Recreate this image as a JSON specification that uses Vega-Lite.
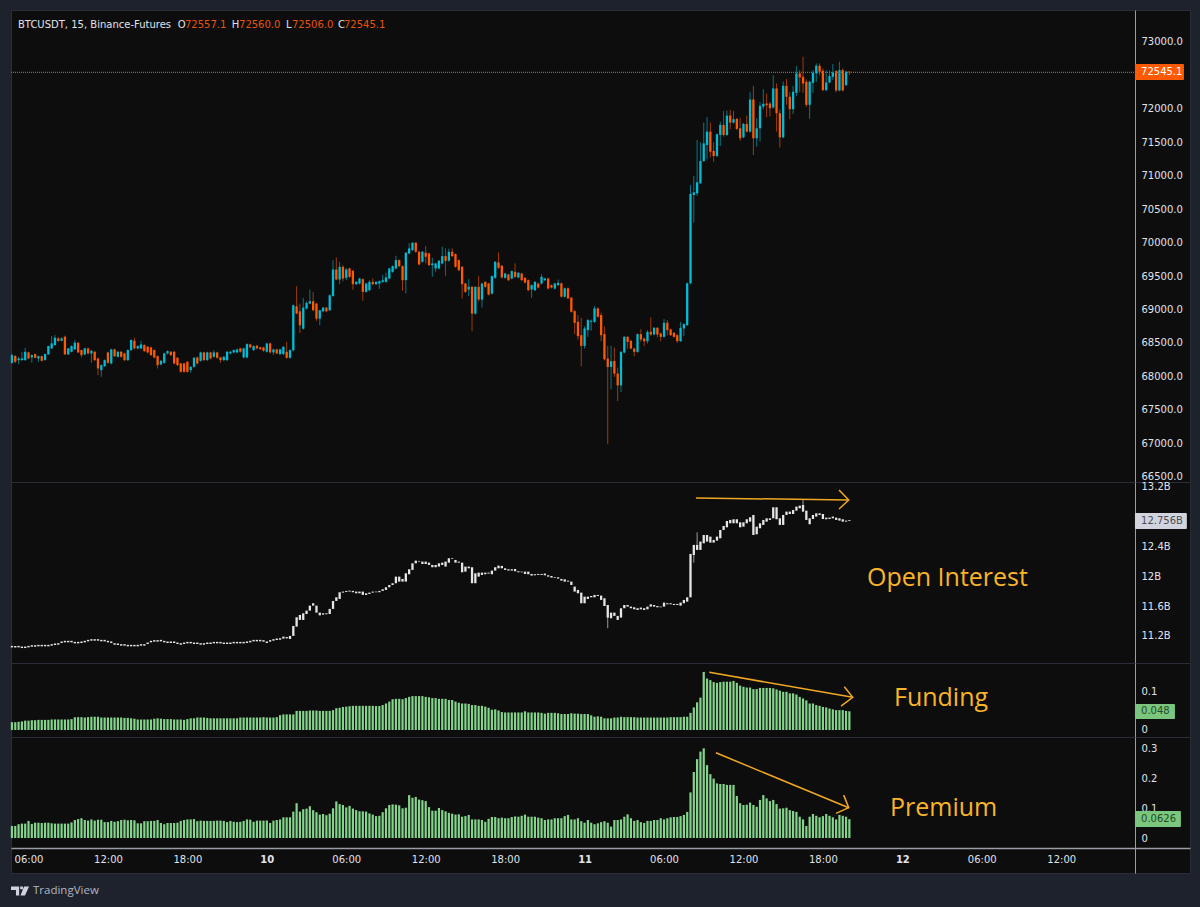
{
"$schema":"https://vega.github.io/schema/vega-lite/v6.json",
"background":"#1e222d",
"padding":{"left":9,"top":9,"right":12,"bottom":1},
"spacing":0,
"bounds":"flush",
"config":{
"view":{"fill":"#0d0d0d","stroke":"#2a2d35"},
"axis":{"grid":false,"ticks":false,"title":null,"domainColor":"#9a9da6","domainWidth":1,"labelColor":"#e0e3eb","labelFont":"DejaVu Sans","labelFontSize":10,"labelOverlap":false,"labelPadding":6,"tickCount":100},
"text":{"font":"DejaVu Sans"}
},
"datasets":{"bars":[
{"t":4.75,"o":68204,"h":68340,"l":68190,"c":68319,"oa":11.044,"ob":11.064,"f":0.02,"p":0.04},
{"t":5,"o":68304,"h":68320,"l":68200,"c":68219,"oa":11.044,"ob":11.064,"f":0.02,"p":0.04},
{"t":5.25,"o":68244,"h":68294,"l":68184,"c":68269,"oa":11.044,"ob":11.064,"f":0.021,"p":0.046},
{"t":5.5,"o":68244,"h":68369,"l":68234,"c":68269,"oa":11.035,"ob":11.055,"f":0.022,"p":0.048},
{"t":5.75,"o":68244,"h":68429,"l":68234,"c":68369,"oa":11.035,"ob":11.055,"f":0.024,"p":0.048},
{"t":6,"o":68359,"h":68369,"l":68260,"c":68269,"oa":11.044,"ob":11.064,"f":0.024,"p":0.057},
{"t":6.25,"o":68284,"h":68330,"l":68204,"c":68319,"oa":11.053,"ob":11.073,"f":0.025,"p":0.047},
{"t":6.5,"o":68334,"h":68340,"l":68270,"c":68279,"oa":11.053,"ob":11.073,"f":0.025,"p":0.051},
{"t":6.75,"o":68269,"h":68310,"l":68219,"c":68304,"oa":11.058,"ob":11.078,"f":0.026,"p":0.051},
{"t":7,"o":68304,"h":68310,"l":68225,"c":68234,"oa":11.058,"ob":11.078,"f":0.026,"p":0.05},
{"t":7.25,"o":68244,"h":68345,"l":68240,"c":68334,"oa":11.058,"ob":11.078,"f":0.026,"p":0.051},
{"t":7.5,"o":68329,"h":68460,"l":68325,"c":68454,"oa":11.058,"ob":11.078,"f":0.026,"p":0.051},
{"t":7.75,"o":68419,"h":68604,"l":68410,"c":68494,"oa":11.067,"ob":11.087,"f":0.027,"p":0.049},
{"t":8,"o":68469,"h":68619,"l":68460,"c":68579,"oa":11.076,"ob":11.096,"f":0.027,"p":0.048},
{"t":8.25,"o":68569,"h":68590,"l":68520,"c":68529,"oa":11.08,"ob":11.1,"f":0.027,"p":0.048},
{"t":8.5,"o":68534,"h":68585,"l":68525,"c":68569,"oa":11.103,"ob":11.123,"f":0.027,"p":0.048},
{"t":8.75,"o":68594,"h":68610,"l":68325,"c":68329,"oa":11.112,"ob":11.132,"f":0.027,"p":0.048},
{"t":9,"o":68329,"h":68425,"l":68320,"c":68419,"oa":11.112,"ob":11.132,"f":0.027,"p":0.048},
{"t":9.25,"o":68369,"h":68465,"l":68360,"c":68454,"oa":11.112,"ob":11.132,"f":0.028,"p":0.052},
{"t":9.5,"o":68404,"h":68544,"l":68400,"c":68504,"oa":11.098,"ob":11.118,"f":0.033,"p":0.06},
{"t":9.75,"o":68504,"h":68510,"l":68350,"c":68359,"oa":11.098,"ob":11.118,"f":0.033,"p":0.063},
{"t":10,"o":68394,"h":68400,"l":68284,"c":68319,"oa":11.103,"ob":11.123,"f":0.033,"p":0.066},
{"t":10.25,"o":68329,"h":68430,"l":68315,"c":68419,"oa":11.112,"ob":11.132,"f":0.032,"p":0.06},
{"t":10.5,"o":68419,"h":68430,"l":68330,"c":68344,"oa":11.125,"ob":11.145,"f":0.033,"p":0.058},
{"t":10.75,"o":68344,"h":68395,"l":68204,"c":68384,"oa":11.134,"ob":11.154,"f":0.034,"p":0.062},
{"t":11,"o":68369,"h":68380,"l":68230,"c":68244,"oa":11.134,"ob":11.154,"f":0.034,"p":0.058},
{"t":11.25,"o":68269,"h":68280,"l":68019,"c":68119,"oa":11.134,"ob":11.154,"f":0.034,"p":0.061},
{"t":11.5,"o":68094,"h":68180,"l":67994,"c":68169,"oa":11.125,"ob":11.145,"f":0.032,"p":0.061},
{"t":11.75,"o":68154,"h":68255,"l":68140,"c":68244,"oa":11.125,"ob":11.145,"f":0.032,"p":0.053},
{"t":12,"o":68359,"h":68370,"l":68190,"c":68204,"oa":11.112,"ob":11.132,"f":0.032,"p":0.053},
{"t":12.25,"o":68194,"h":68415,"l":68180,"c":68404,"oa":11.103,"ob":11.123,"f":0.032,"p":0.057},
{"t":12.5,"o":68404,"h":68415,"l":68290,"c":68304,"oa":11.08,"ob":11.1,"f":0.032,"p":0.054},
{"t":12.75,"o":68294,"h":68380,"l":68280,"c":68369,"oa":11.076,"ob":11.096,"f":0.032,"p":0.056},
{"t":13,"o":68369,"h":68380,"l":68280,"c":68294,"oa":11.067,"ob":11.087,"f":0.032,"p":0.06},
{"t":13.25,"o":68344,"h":68355,"l":68230,"c":68244,"oa":11.067,"ob":11.087,"f":0.031,"p":0.061},
{"t":13.5,"o":68244,"h":68405,"l":68230,"c":68394,"oa":11.058,"ob":11.078,"f":0.031,"p":0.059},
{"t":13.75,"o":68394,"h":68555,"l":68380,"c":68544,"oa":11.058,"ob":11.078,"f":0.03,"p":0.06},
{"t":14,"o":68534,"h":68579,"l":68405,"c":68419,"oa":11.058,"ob":11.078,"f":0.029,"p":0.059},
{"t":14.25,"o":68419,"h":68465,"l":68405,"c":68454,"oa":11.058,"ob":11.078,"f":0.027,"p":0.049},
{"t":14.5,"o":68419,"h":68534,"l":68405,"c":68479,"oa":11.067,"ob":11.087,"f":0.027,"p":0.049},
{"t":14.75,"o":68469,"h":68480,"l":68365,"c":68379,"oa":11.067,"ob":11.087,"f":0.027,"p":0.056},
{"t":15,"o":68444,"h":68455,"l":68345,"c":68359,"oa":11.089,"ob":11.109,"f":0.027,"p":0.056},
{"t":15.25,"o":68434,"h":68445,"l":68305,"c":68319,"oa":11.112,"ob":11.132,"f":0.027,"p":0.057},
{"t":15.5,"o":68394,"h":68405,"l":68270,"c":68284,"oa":11.121,"ob":11.141,"f":0.029,"p":0.057},
{"t":15.75,"o":68304,"h":68315,"l":68119,"c":68169,"oa":11.121,"ob":11.141,"f":0.03,"p":0.06},
{"t":16,"o":68179,"h":68245,"l":68165,"c":68234,"oa":11.125,"ob":11.145,"f":0.029,"p":0.05},
{"t":16.25,"o":68204,"h":68355,"l":68190,"c":68344,"oa":11.112,"ob":11.132,"f":0.028,"p":0.046},
{"t":16.5,"o":68344,"h":68390,"l":68330,"c":68379,"oa":11.103,"ob":11.123,"f":0.028,"p":0.05},
{"t":16.75,"o":68369,"h":68380,"l":68305,"c":68319,"oa":11.103,"ob":11.123,"f":0.028,"p":0.05},
{"t":17,"o":68369,"h":68380,"l":68180,"c":68194,"oa":11.103,"ob":11.123,"f":0.027,"p":0.05},
{"t":17.25,"o":68279,"h":68290,"l":68155,"c":68169,"oa":11.089,"ob":11.109,"f":0.027,"p":0.051},
{"t":17.5,"o":68194,"h":68205,"l":68055,"c":68069,"oa":11.08,"ob":11.1,"f":0.027,"p":0.057},
{"t":17.75,"o":68194,"h":68205,"l":68055,"c":68069,"oa":11.089,"ob":11.109,"f":0.026,"p":0.06},
{"t":18,"o":68219,"h":68230,"l":68055,"c":68069,"oa":11.098,"ob":11.118,"f":0.028,"p":0.062},
{"t":18.25,"o":68094,"h":68155,"l":68054,"c":68144,"oa":11.098,"ob":11.118,"f":0.03,"p":0.062},
{"t":18.5,"o":68144,"h":68290,"l":68130,"c":68279,"oa":11.089,"ob":11.109,"f":0.03,"p":0.063},
{"t":18.75,"o":68284,"h":68295,"l":68180,"c":68194,"oa":11.089,"ob":11.109,"f":0.032,"p":0.056},
{"t":19,"o":68234,"h":68370,"l":68220,"c":68359,"oa":11.08,"ob":11.1,"f":0.032,"p":0.058},
{"t":19.25,"o":68359,"h":68370,"l":68230,"c":68244,"oa":11.08,"ob":11.1,"f":0.032,"p":0.057},
{"t":19.5,"o":68244,"h":68370,"l":68230,"c":68359,"oa":11.089,"ob":11.109,"f":0.031,"p":0.057},
{"t":19.75,"o":68359,"h":68370,"l":68255,"c":68269,"oa":11.089,"ob":11.109,"f":0.03,"p":0.057},
{"t":20,"o":68294,"h":68394,"l":68280,"c":68359,"oa":11.098,"ob":11.118,"f":0.03,"p":0.057},
{"t":20.25,"o":68359,"h":68370,"l":68265,"c":68279,"oa":11.098,"ob":11.118,"f":0.03,"p":0.058},
{"t":20.5,"o":68284,"h":68295,"l":68204,"c":68244,"oa":11.098,"ob":11.118,"f":0.03,"p":0.058},
{"t":20.75,"o":68244,"h":68305,"l":68230,"c":68294,"oa":11.089,"ob":11.109,"f":0.03,"p":0.057},
{"t":21,"o":68244,"h":68380,"l":68230,"c":68369,"oa":11.089,"ob":11.109,"f":0.03,"p":0.053},
{"t":21.25,"o":68344,"h":68380,"l":68330,"c":68369,"oa":11.089,"ob":11.109,"f":0.03,"p":0.057},
{"t":21.5,"o":68359,"h":68405,"l":68345,"c":68394,"oa":11.098,"ob":11.118,"f":0.03,"p":0.054},
{"t":21.75,"o":68359,"h":68415,"l":68345,"c":68404,"oa":11.098,"ob":11.118,"f":0.03,"p":0.053},
{"t":22,"o":68419,"h":68430,"l":68355,"c":68369,"oa":11.098,"ob":11.118,"f":0.032,"p":0.054},
{"t":22.25,"o":68284,"h":68430,"l":68270,"c":68419,"oa":11.098,"ob":11.118,"f":0.032,"p":0.057},
{"t":22.5,"o":68284,"h":68495,"l":68270,"c":68484,"oa":11.103,"ob":11.123,"f":0.032,"p":0.062},
{"t":22.75,"o":68479,"h":68490,"l":68420,"c":68434,"oa":11.112,"ob":11.132,"f":0.032,"p":0.061},
{"t":23,"o":68394,"h":68465,"l":68380,"c":68454,"oa":11.125,"ob":11.145,"f":0.032,"p":0.054},
{"t":23.25,"o":68459,"h":68470,"l":68405,"c":68419,"oa":11.125,"ob":11.145,"f":0.032,"p":0.058},
{"t":23.5,"o":68434,"h":68445,"l":68395,"c":68409,"oa":11.125,"ob":11.145,"f":0.032,"p":0.058},
{"t":23.75,"o":68434,"h":68445,"l":68370,"c":68384,"oa":11.121,"ob":11.141,"f":0.033,"p":0.058},
{"t":24,"o":68369,"h":68505,"l":68355,"c":68494,"oa":11.103,"ob":11.123,"f":0.032,"p":0.058},
{"t":24.25,"o":68494,"h":68505,"l":68345,"c":68359,"oa":11.121,"ob":11.141,"f":0.032,"p":0.05},
{"t":24.5,"o":68359,"h":68415,"l":68319,"c":68404,"oa":11.134,"ob":11.154,"f":0.032,"p":0.058},
{"t":24.75,"o":68404,"h":68415,"l":68330,"c":68344,"oa":11.143,"ob":11.163,"f":0.033,"p":0.06},
{"t":25,"o":68334,"h":68415,"l":68320,"c":68404,"oa":11.147,"ob":11.167,"f":0.038,"p":0.062},
{"t":25.25,"o":68334,"h":68455,"l":68320,"c":68444,"oa":11.162,"ob":11.189,"f":0.04,"p":0.069},
{"t":25.5,"o":68369,"h":68519,"l":68265,"c":68279,"oa":11.165,"ob":11.183,"f":0.04,"p":0.069},
{"t":25.75,"o":68279,"h":68405,"l":68265,"c":68394,"oa":11.157,"ob":11.198,"f":0.04,"p":0.069},
{"t":26,"o":68390,"h":69075,"l":68375,"c":69064,"oa":11.198,"ob":11.332,"f":0.04,"p":0.088},
{"t":26.25,"o":69049,"h":69349,"l":68930,"c":68939,"oa":11.323,"ob":11.449,"f":0.049,"p":0.116},
{"t":26.5,"o":68974,"h":69089,"l":68649,"c":68764,"oa":11.413,"ob":11.48,"f":0.049,"p":0.088},
{"t":26.75,"o":68714,"h":69174,"l":68700,"c":69029,"oa":11.413,"ob":11.502,"f":0.049,"p":0.096},
{"t":27,"o":69014,"h":69120,"l":69000,"c":69099,"oa":11.493,"ob":11.538,"f":0.049,"p":0.098},
{"t":27.25,"o":69089,"h":69299,"l":69080,"c":69124,"oa":11.538,"ob":11.605,"f":0.05,"p":0.106},
{"t":27.5,"o":69124,"h":69264,"l":68980,"c":68989,"oa":11.605,"ob":11.637,"f":0.05,"p":0.093},
{"t":27.75,"o":69089,"h":69100,"l":68830,"c":68864,"oa":11.511,"ob":11.605,"f":0.05,"p":0.086},
{"t":28,"o":68864,"h":68995,"l":68764,"c":68989,"oa":11.475,"ob":11.511,"f":0.049,"p":0.078},
{"t":28.25,"o":68974,"h":69040,"l":68960,"c":69029,"oa":11.484,"ob":11.502,"f":0.049,"p":0.08},
{"t":28.5,"o":69029,"h":69040,"l":68960,"c":68974,"oa":11.489,"ob":11.502,"f":0.049,"p":0.076},
{"t":28.75,"o":68989,"h":69225,"l":68975,"c":69214,"oa":11.493,"ob":11.561,"f":0.049,"p":0.081},
{"t":29,"o":69204,"h":69739,"l":69190,"c":69599,"oa":11.561,"ob":11.668,"f":0.051,"p":0.099},
{"t":29.25,"o":69599,"h":69779,"l":69440,"c":69449,"oa":11.668,"ob":11.717,"f":0.056,"p":0.122},
{"t":29.5,"o":69449,"h":69714,"l":69379,"c":69639,"oa":11.695,"ob":11.785,"f":0.057,"p":0.113},
{"t":29.75,"o":69639,"h":69664,"l":69420,"c":69464,"oa":11.78,"ob":11.794,"f":0.059,"p":0.11},
{"t":30,"o":69474,"h":69620,"l":69440,"c":69599,"oa":11.789,"ob":11.803,"f":0.06,"p":0.102},
{"t":30.25,"o":69614,"h":69625,"l":69475,"c":69489,"oa":11.794,"ob":11.807,"f":0.061,"p":0.107},
{"t":30.5,"o":69579,"h":69590,"l":69299,"c":69379,"oa":11.785,"ob":11.803,"f":0.062,"p":0.098},
{"t":30.75,"o":69379,"h":69425,"l":69365,"c":69414,"oa":11.771,"ob":11.794,"f":0.062,"p":0.093},
{"t":31,"o":69389,"h":69475,"l":69375,"c":69464,"oa":11.771,"ob":11.794,"f":0.062,"p":0.089},
{"t":31.25,"o":69454,"h":69465,"l":69129,"c":69264,"oa":11.749,"ob":11.794,"f":0.062,"p":0.089},
{"t":31.5,"o":69264,"h":69400,"l":69250,"c":69389,"oa":11.749,"ob":11.771,"f":0.062,"p":0.088},
{"t":31.75,"o":69289,"h":69439,"l":69275,"c":69414,"oa":11.762,"ob":11.78,"f":0.062,"p":0.082},
{"t":32,"o":69414,"h":69464,"l":69365,"c":69379,"oa":11.78,"ob":11.794,"f":0.062,"p":0.078},
{"t":32.25,"o":69379,"h":69425,"l":69365,"c":69414,"oa":11.785,"ob":11.794,"f":0.0615,"p":0.073},
{"t":32.5,"o":69389,"h":69435,"l":69309,"c":69424,"oa":11.785,"ob":11.803,"f":0.0615,"p":0.074},
{"t":32.75,"o":69414,"h":69519,"l":69400,"c":69439,"oa":11.803,"ob":11.825,"f":0.064,"p":0.086},
{"t":33,"o":69414,"h":69549,"l":69400,"c":69479,"oa":11.816,"ob":11.852,"f":0.068,"p":0.099},
{"t":33.25,"o":69464,"h":69625,"l":69450,"c":69614,"oa":11.852,"ob":11.883,"f":0.073,"p":0.11},
{"t":33.5,"o":69564,"h":69660,"l":69550,"c":69649,"oa":11.883,"ob":11.906,"f":0.079,"p":0.112},
{"t":33.75,"o":69614,"h":69804,"l":69600,"c":69739,"oa":11.906,"ob":11.995,"f":0.08,"p":0.111},
{"t":34,"o":69739,"h":69750,"l":69635,"c":69649,"oa":11.928,"ob":11.995,"f":0.08,"p":0.109},
{"t":34.25,"o":69649,"h":69660,"l":69279,"c":69439,"oa":11.928,"ob":11.964,"f":0.079,"p":0.099},
{"t":34.5,"o":69439,"h":69860,"l":69239,"c":69849,"oa":11.928,"ob":12.04,"f":0.082,"p":0.101},
{"t":34.75,"o":69839,"h":69994,"l":69825,"c":69914,"oa":12.027,"ob":12.094,"f":0.085,"p":0.143},
{"t":35,"o":69889,"h":70005,"l":69875,"c":69999,"oa":12.085,"ob":12.174,"f":0.087,"p":0.134},
{"t":35.25,"o":69999,"h":70005,"l":69850,"c":69864,"oa":12.174,"ob":12.21,"f":0.087,"p":0.137},
{"t":35.5,"o":69864,"h":69875,"l":69660,"c":69674,"oa":12.197,"ob":12.206,"f":0.087,"p":0.128},
{"t":35.75,"o":69714,"h":69875,"l":69700,"c":69864,"oa":12.165,"ob":12.197,"f":0.087,"p":0.126},
{"t":36,"o":69849,"h":69949,"l":69689,"c":69789,"oa":12.165,"ob":12.197,"f":0.085,"p":0.123},
{"t":36.25,"o":69839,"h":69850,"l":69650,"c":69664,"oa":12.152,"ob":12.183,"f":0.084,"p":0.103},
{"t":36.5,"o":69664,"h":69774,"l":69489,"c":69689,"oa":12.121,"ob":12.152,"f":0.082,"p":0.091},
{"t":36.75,"o":69614,"h":69700,"l":69564,"c":69689,"oa":12.121,"ob":12.152,"f":0.082,"p":0.091},
{"t":37,"o":69614,"h":69740,"l":69600,"c":69729,"oa":12.13,"ob":12.174,"f":0.08,"p":0.1},
{"t":37.25,"o":69689,"h":69939,"l":69675,"c":69799,"oa":12.152,"ob":12.183,"f":0.08,"p":0.093},
{"t":37.5,"o":69799,"h":69914,"l":69504,"c":69729,"oa":12.13,"ob":12.197,"f":0.08,"p":0.089},
{"t":37.75,"o":69729,"h":69910,"l":69715,"c":69864,"oa":12.183,"ob":12.242,"f":0.077,"p":0.084},
{"t":38,"o":69864,"h":69914,"l":69785,"c":69799,"oa":12.233,"ob":12.242,"f":0.077,"p":0.081},
{"t":38.25,"o":69829,"h":69840,"l":69625,"c":69639,"oa":12.183,"ob":12.219,"f":0.073,"p":0.078},
{"t":38.5,"o":69739,"h":69750,"l":69575,"c":69589,"oa":12.183,"ob":12.197,"f":0.07,"p":0.079},
{"t":38.75,"o":69639,"h":69650,"l":69164,"c":69379,"oa":12.053,"ob":12.183,"f":0.068,"p":0.071},
{"t":39,"o":69389,"h":69400,"l":69250,"c":69264,"oa":12.062,"ob":12.13,"f":0.068,"p":0.073},
{"t":39.25,"o":69299,"h":69454,"l":69200,"c":69339,"oa":12.107,"ob":12.13,"f":0.067,"p":0.077},
{"t":39.5,"o":69339,"h":69350,"l":68674,"c":68939,"oa":11.906,"ob":12.121,"f":0.064,"p":0.062},
{"t":39.75,"o":68939,"h":69350,"l":68925,"c":69339,"oa":11.906,"ob":12.04,"f":0.064,"p":0.062},
{"t":40,"o":69339,"h":69499,"l":69120,"c":69149,"oa":11.995,"ob":12.049,"f":0.062,"p":0.062},
{"t":40.25,"o":69149,"h":69400,"l":69029,"c":69389,"oa":12.018,"ob":12.049,"f":0.062,"p":0.06},
{"t":40.5,"o":69414,"h":69425,"l":69325,"c":69339,"oa":12.027,"ob":12.049,"f":0.06,"p":0.054},
{"t":40.75,"o":69389,"h":69400,"l":69210,"c":69224,"oa":12.036,"ob":12.049,"f":0.057,"p":0.064},
{"t":41,"o":69239,"h":69510,"l":69225,"c":69499,"oa":12.027,"ob":12.076,"f":0.052,"p":0.07},
{"t":41.25,"o":69474,"h":69725,"l":69460,"c":69714,"oa":12.076,"ob":12.121,"f":0.053,"p":0.07},
{"t":41.5,"o":69704,"h":69854,"l":69610,"c":69624,"oa":12.107,"ob":12.143,"f":0.05,"p":0.066},
{"t":41.75,"o":69654,"h":69665,"l":69465,"c":69479,"oa":12.107,"ob":12.139,"f":0.046,"p":0.068},
{"t":42,"o":69474,"h":69550,"l":69460,"c":69539,"oa":12.085,"ob":12.107,"f":0.045,"p":0.066},
{"t":42.25,"o":69524,"h":69535,"l":69425,"c":69439,"oa":12.076,"ob":12.094,"f":0.045,"p":0.066},
{"t":42.5,"o":69464,"h":69585,"l":69450,"c":69574,"oa":12.076,"ob":12.094,"f":0.045,"p":0.07},
{"t":42.75,"o":69564,"h":69689,"l":69475,"c":69489,"oa":12.067,"ob":12.098,"f":0.045,"p":0.072},
{"t":43,"o":69479,"h":69560,"l":69465,"c":69549,"oa":12.053,"ob":12.067,"f":0.045,"p":0.071},
{"t":43.25,"o":69539,"h":69550,"l":69425,"c":69439,"oa":12.053,"ob":12.062,"f":0.045,"p":0.074},
{"t":43.5,"o":69474,"h":69485,"l":69390,"c":69404,"oa":12.031,"ob":12.062,"f":0.048,"p":0.078},
{"t":43.75,"o":69439,"h":69450,"l":69275,"c":69289,"oa":12.027,"ob":12.062,"f":0.045,"p":0.071},
{"t":44,"o":69299,"h":69375,"l":69174,"c":69364,"oa":12.009,"ob":12.031,"f":0.045,"p":0.071},
{"t":44.25,"o":69289,"h":69425,"l":69275,"c":69414,"oa":12.013,"ob":12.027,"f":0.045,"p":0.071},
{"t":44.5,"o":69389,"h":69400,"l":69315,"c":69329,"oa":12.018,"ob":12.031,"f":0.045,"p":0.068},
{"t":44.75,"o":69389,"h":69529,"l":69375,"c":69489,"oa":12.018,"ob":12.031,"f":0.044,"p":0.066},
{"t":45,"o":69439,"h":69475,"l":69425,"c":69464,"oa":12.013,"ob":12.036,"f":0.042,"p":0.06},
{"t":45.25,"o":69464,"h":69475,"l":69300,"c":69314,"oa":11.995,"ob":12.013,"f":0.044,"p":0.062},
{"t":45.5,"o":69364,"h":69375,"l":69315,"c":69329,"oa":11.982,"ob":12.004,"f":0.044,"p":0.062},
{"t":45.75,"o":69314,"h":69400,"l":69300,"c":69389,"oa":11.977,"ob":11.986,"f":0.044,"p":0.066},
{"t":46,"o":69364,"h":69449,"l":69350,"c":69399,"oa":11.968,"ob":11.986,"f":0.043,"p":0.066},
{"t":46.25,"o":69392,"h":69405,"l":69180,"c":69193,"oa":11.941,"ob":11.964,"f":0.041,"p":0.066},
{"t":46.5,"o":69192,"h":69330,"l":69180,"c":69317,"oa":11.928,"ob":11.959,"f":0.041,"p":0.073},
{"t":46.75,"o":69317,"h":69330,"l":69155,"c":69167,"oa":11.928,"ob":11.941,"f":0.041,"p":0.077},
{"t":47,"o":69177,"h":69190,"l":68955,"c":68967,"oa":11.883,"ob":11.928,"f":0.043,"p":0.062},
{"t":47.25,"o":68977,"h":68990,"l":68632,"c":68802,"oa":11.794,"ob":11.861,"f":0.042,"p":0.062},
{"t":47.5,"o":68817,"h":68917,"l":68552,"c":68602,"oa":11.771,"ob":11.816,"f":0.042,"p":0.066},
{"t":47.75,"o":68617,"h":68877,"l":68152,"c":68457,"oa":11.637,"ob":11.78,"f":0.041,"p":0.056},
{"t":48,"o":68457,"h":68750,"l":68417,"c":68717,"oa":11.637,"ob":11.726,"f":0.041,"p":0.051},
{"t":48.25,"o":68692,"h":68860,"l":68592,"c":68842,"oa":11.695,"ob":11.726,"f":0.041,"p":0.06},
{"t":48.5,"o":68817,"h":68850,"l":68682,"c":68832,"oa":11.717,"ob":11.735,"f":0.0376,"p":0.051},
{"t":48.75,"o":68817,"h":69052,"l":68800,"c":69017,"oa":11.717,"ob":11.749,"f":0.034,"p":0.046},
{"t":49,"o":69017,"h":69030,"l":68880,"c":68892,"oa":11.735,"ob":11.749,"f":0.035,"p":0.049},
{"t":49.25,"o":68917,"h":68952,"l":68527,"c":68617,"oa":11.682,"ob":11.74,"f":0.034,"p":0.053},
{"t":49.5,"o":68632,"h":68742,"l":68240,"c":68257,"oa":11.6,"ob":11.704,"f":0.03,"p":0.056},
{"t":49.75,"o":68267,"h":68457,"l":66992,"c":68142,"oa":11.444,"ob":11.614,"f":0.03,"p":0.051},
{"t":50,"o":68142,"h":68457,"l":67807,"c":68227,"oa":11.435,"ob":11.511,"f":0.03,"p":0.038},
{"t":50.25,"o":68232,"h":68432,"l":67992,"c":68042,"oa":11.467,"ob":11.511,"f":0.032,"p":0.06},
{"t":50.5,"o":68042,"h":68132,"l":67632,"c":67867,"oa":11.413,"ob":11.467,"f":0.032,"p":0.06},
{"t":50.75,"o":67867,"h":68380,"l":67767,"c":68367,"oa":11.444,"ob":11.57,"f":0.034,"p":0.062},
{"t":51,"o":68357,"h":68605,"l":68345,"c":68592,"oa":11.57,"ob":11.614,"f":0.033,"p":0.071},
{"t":51.25,"o":68592,"h":68605,"l":68417,"c":68517,"oa":11.592,"ob":11.614,"f":0.033,"p":0.079},
{"t":51.5,"o":68532,"h":68545,"l":68405,"c":68417,"oa":11.57,"ob":11.592,"f":0.033,"p":0.066},
{"t":51.75,"o":68417,"h":68430,"l":68302,"c":68367,"oa":11.556,"ob":11.583,"f":0.033,"p":0.057},
{"t":52,"o":68367,"h":68645,"l":68355,"c":68632,"oa":11.547,"ob":11.57,"f":0.032,"p":0.06},
{"t":52.25,"o":68632,"h":68707,"l":68517,"c":68552,"oa":11.556,"ob":11.579,"f":0.032,"p":0.053},
{"t":52.5,"o":68567,"h":68580,"l":68452,"c":68527,"oa":11.547,"ob":11.57,"f":0.032,"p":0.05},
{"t":52.75,"o":68527,"h":68692,"l":68492,"c":68667,"oa":11.556,"ob":11.592,"f":0.032,"p":0.057},
{"t":53,"o":68667,"h":68882,"l":68607,"c":68627,"oa":11.592,"ob":11.623,"f":0.032,"p":0.057},
{"t":53.25,"o":68627,"h":68740,"l":68615,"c":68727,"oa":11.592,"ob":11.614,"f":0.032,"p":0.06},
{"t":53.5,"o":68727,"h":68740,"l":68582,"c":68627,"oa":11.583,"ob":11.6,"f":0.032,"p":0.06},
{"t":53.75,"o":68642,"h":68655,"l":68527,"c":68592,"oa":11.583,"ob":11.592,"f":0.032,"p":0.066},
{"t":54,"o":68592,"h":68857,"l":68580,"c":68802,"oa":11.592,"ob":11.646,"f":0.032,"p":0.062},
{"t":54.25,"o":68802,"h":68842,"l":68617,"c":68692,"oa":11.623,"ob":11.637,"f":0.032,"p":0.066},
{"t":54.5,"o":68702,"h":68715,"l":68605,"c":68617,"oa":11.623,"ob":11.637,"f":0.033,"p":0.069},
{"t":54.75,"o":68652,"h":68665,"l":68580,"c":68592,"oa":11.614,"ob":11.628,"f":0.033,"p":0.07},
{"t":55,"o":68617,"h":68630,"l":68502,"c":68527,"oa":11.614,"ob":11.628,"f":0.033,"p":0.07},
{"t":55.25,"o":68527,"h":68817,"l":68515,"c":68727,"oa":11.605,"ob":11.646,"f":0.033,"p":0.073},
{"t":55.5,"o":68717,"h":68795,"l":68602,"c":68782,"oa":11.637,"ob":11.682,"f":0.034,"p":0.077},
{"t":55.75,"o":68767,"h":69405,"l":68755,"c":69392,"oa":11.659,"ob":11.717,"f":0.034,"p":0.087},
{"t":56,"o":69392,"h":70862,"l":69380,"c":70727,"oa":11.717,"ob":12.3,"f":0.044,"p":0.152},
{"t":56.25,"o":70712,"h":70997,"l":70300,"c":70752,"oa":12.286,"ob":12.421,"f":0.058,"p":0.22},
{"t":56.5,"o":70737,"h":71535,"l":70700,"c":70902,"oa":12.354,"ob":12.421,"f":0.071,"p":0.263},
{"t":56.75,"o":70887,"h":71500,"l":70875,"c":71220,"oa":12.354,"ob":12.466,"f":0.083,"p":0.288},
{"t":57,"o":71220,"h":71795,"l":71205,"c":71485,"oa":12.443,"ob":12.555,"f":0.149,"p":0.299},
{"t":57.25,"o":71460,"h":71880,"l":71245,"c":71660,"oa":12.466,"ob":12.555,"f":0.132,"p":0.243},
{"t":57.5,"o":71660,"h":71795,"l":71275,"c":71360,"oa":12.452,"ob":12.533,"f":0.128,"p":0.213},
{"t":57.75,"o":71370,"h":71500,"l":71210,"c":71295,"oa":12.452,"ob":12.488,"f":0.123,"p":0.198},
{"t":58,"o":71295,"h":71635,"l":71280,"c":71620,"oa":12.479,"ob":12.533,"f":0.121,"p":0.182},
{"t":58.25,"o":71610,"h":71810,"l":71445,"c":71760,"oa":12.51,"ob":12.622,"f":0.123,"p":0.18},
{"t":58.5,"o":71760,"h":71970,"l":71585,"c":71610,"oa":12.622,"ob":12.676,"f":0.124,"p":0.18},
{"t":58.75,"o":71610,"h":71975,"l":71595,"c":71900,"oa":12.658,"ob":12.743,"f":0.124,"p":0.177},
{"t":59,"o":71900,"h":71985,"l":71695,"c":71795,"oa":12.712,"ob":12.757,"f":0.124,"p":0.177},
{"t":59.25,"o":71795,"h":71970,"l":71780,"c":71845,"oa":12.712,"ob":12.766,"f":0.126,"p":0.177},
{"t":59.5,"o":71850,"h":71865,"l":71685,"c":71700,"oa":12.712,"ob":12.766,"f":0.121,"p":0.14},
{"t":59.75,"o":71710,"h":71860,"l":71525,"c":71560,"oa":12.658,"ob":12.725,"f":0.114,"p":0.116},
{"t":60,"o":71575,"h":71790,"l":71560,"c":71775,"oa":12.667,"ob":12.725,"f":0.111,"p":0.11},
{"t":60.25,"o":71775,"h":71900,"l":71645,"c":71660,"oa":12.712,"ob":12.766,"f":0.109,"p":0.111},
{"t":60.5,"o":71660,"h":72255,"l":71645,"c":72140,"oa":12.734,"ob":12.793,"f":0.109,"p":0.118},
{"t":60.75,"o":72140,"h":72345,"l":71310,"c":71560,"oa":12.555,"ob":12.824,"f":0.105,"p":0.11},
{"t":61,"o":71560,"h":71860,"l":71435,"c":71710,"oa":12.564,"ob":12.667,"f":0.105,"p":0.104},
{"t":61.25,"o":71710,"h":72100,"l":71510,"c":72045,"oa":12.645,"ob":12.712,"f":0.108,"p":0.127},
{"t":61.5,"o":72035,"h":72295,"l":71995,"c":72075,"oa":12.69,"ob":12.757,"f":0.108,"p":0.143},
{"t":61.75,"o":72080,"h":72230,"l":71875,"c":72055,"oa":12.734,"ob":12.779,"f":0.108,"p":0.132},
{"t":62,"o":72080,"h":72105,"l":71885,"c":72010,"oa":12.757,"ob":12.779,"f":0.108,"p":0.123},
{"t":62.25,"o":72020,"h":72505,"l":72005,"c":72305,"oa":12.779,"ob":12.927,"f":0.107,"p":0.127},
{"t":62.5,"o":72305,"h":72380,"l":71660,"c":71935,"oa":12.766,"ob":12.927,"f":0.104,"p":0.113},
{"t":62.75,"o":71935,"h":71990,"l":71420,"c":71575,"oa":12.69,"ob":12.779,"f":0.101,"p":0.098},
{"t":63,"o":71575,"h":72410,"l":71560,"c":72345,"oa":12.69,"ob":12.824,"f":0.098,"p":0.099},
{"t":63.25,"o":72345,"h":72445,"l":72060,"c":72180,"oa":12.824,"ob":12.869,"f":0.098,"p":0.101},
{"t":63.5,"o":72180,"h":72255,"l":71845,"c":71995,"oa":12.837,"ob":12.869,"f":0.094,"p":0.093},
{"t":63.75,"o":71995,"h":72340,"l":71925,"c":72255,"oa":12.837,"ob":12.891,"f":0.094,"p":0.09},
{"t":64,"o":72240,"h":72640,"l":72190,"c":72530,"oa":12.882,"ob":12.936,"f":0.091,"p":0.087},
{"t":64.25,"o":72530,"h":72580,"l":72255,"c":72470,"oa":12.914,"ob":12.949,"f":0.085,"p":0.071},
{"t":64.5,"o":72480,"h":72780,"l":72240,"c":72380,"oa":12.869,"ob":12.958,"f":0.081,"p":0.062},
{"t":64.75,"o":72405,"h":72440,"l":72030,"c":72060,"oa":12.757,"ob":12.882,"f":0.076,"p":0.04},
{"t":65,"o":72060,"h":72420,"l":71850,"c":72405,"oa":12.699,"ob":12.779,"f":0.068,"p":0.071},
{"t":65.25,"o":72390,"h":72580,"l":72240,"c":72540,"oa":12.77,"ob":12.824,"f":0.068,"p":0.08},
{"t":65.5,"o":72530,"h":72680,"l":72405,"c":72645,"oa":12.802,"ob":12.846,"f":0.064,"p":0.074},
{"t":65.75,"o":72645,"h":72680,"l":72500,"c":72555,"oa":12.824,"ob":12.846,"f":0.062,"p":0.069},
{"t":66,"o":72570,"h":72605,"l":72265,"c":72280,"oa":12.77,"ob":12.837,"f":0.059,"p":0.073},
{"t":66.25,"o":72280,"h":72580,"l":72265,"c":72395,"oa":12.766,"ob":12.788,"f":0.058,"p":0.08},
{"t":66.5,"o":72395,"h":72575,"l":72380,"c":72490,"oa":12.77,"ob":12.788,"f":0.055,"p":0.074},
{"t":66.75,"o":72480,"h":72670,"l":72430,"c":72545,"oa":12.779,"ob":12.802,"f":0.053,"p":0.069},
{"t":67,"o":72565,"h":72580,"l":72245,"c":72275,"oa":12.757,"ob":12.788,"f":0.051,"p":0.062},
{"t":67.25,"o":72275,"h":72705,"l":72260,"c":72580,"oa":12.748,"ob":12.779,"f":0.051,"p":0.077},
{"t":67.5,"o":72580,"h":72605,"l":72260,"c":72275,"oa":12.734,"ob":12.766,"f":0.051,"p":0.074},
{"t":67.75,"o":72355,"h":72570,"l":72340,"c":72555,"oa":12.734,"ob":12.748,"f":0.049,"p":0.071},
{"t":68,"o":72557,"h":72560,"l":72506,"c":72545,"oa":12.745,"ob":12.756,"f":0.048,"p":0.0626}
]},
"vconcat":[
{"width":1179,"height":472,"data":{"name":"bars"},
"encoding":{"x":{"field":"t","type":"quantitative","scale":{"domain":[4.678,93.727],"nice":false,"zero":false,"padding":0},"axis":null}},
"layer":[
{"mark":{"type":"rule","strokeWidth":1,"opacity":0.6},"encoding":{"y":{"field":"l","type":"quantitative","scale":{"domain":[66422,73478],"nice":false,"zero":false},"axis":{"orient":"right","offset":-55,"labelOverlap":false,"tickCount":100,"values":[66500,67000,67500,68000,68500,69000,69500,70000,70500,71000,71500,72000,73000],"format":".1f"}},"y2":{"field":"h"},"color":{"condition":{"test":"datum.c>=datum.o","value":"#00bcd4"},"value":"#ff5a00"}}},
{"mark":{"type":"bar","size":2.3},"encoding":{"y":{"field":"o","type":"quantitative"},"y2":{"field":"c"},"color":{"condition":{"test":"datum.c>=datum.o","value":"#00bcd4"},"value":"#ff5a00"}}},
{"data":{"values":[{"t":4.678,"t2":89.57,"price":72545.1}]},"mark":{"type":"rule","color":"#ff3c00","strokeWidth":1.2,"strokeDash":[1,1]},"encoding":{"x2":{"field":"t2"},"y":{"field":"price","type":"quantitative"}}},
{"data":{"values":[{"t":89.57,"t2":93.27,"lo":72432,"hi":72671}]},"mark":{"type":"rect","color":"#ff5a00","cornerRadius":1},"encoding":{"x2":{"field":"t2"},"y":{"field":"lo","type":"quantitative"},"y2":{"field":"hi"}}},
{"data":{"values":[{"t":90.03,"price":72545.1,"label":"72545.1"}]},"mark":{"type":"text","align":"left","color":"#ffffff","fontSize":10},"encoding":{"y":{"field":"price","type":"quantitative"},"text":{"field":"label"}}},
{"data":{"values":[
{"t":5.207,"price":73254,"label":"BTCUSDT, 15, Binance-Futures","kind":"name"},
{"t":17.27,"price":73254,"label":"O","kind":"name"},
{"t":17.82,"price":73254,"label":"72557.1","kind":"value"},
{"t":21.35,"price":73254,"label":"H","kind":"name"},
{"t":21.9,"price":73254,"label":"72560.0","kind":"value"},
{"t":25.45,"price":73254,"label":"L","kind":"name"},
{"t":25.9,"price":73254,"label":"72506.0","kind":"value"},
{"t":29.38,"price":73254,"label":"C","kind":"name"},
{"t":29.83,"price":73254,"label":"72545.1","kind":"value"}
]},"mark":{"type":"text","align":"left","fontSize":10},"encoding":{"y":{"field":"price","type":"quantitative"},"text":{"field":"label"},"color":{"condition":{"test":"datum.kind=='value'","value":"#e8520b"},"value":"#e0e3eb"}}}
]},
{"width":1179,"height":181,"data":{"name":"bars"},
"encoding":{"x":{"field":"t","type":"quantitative","scale":{"domain":[4.678,93.727],"nice":false,"zero":false,"padding":0},"axis":null}},
"layer":[
{"data":{"values":[{"t":49.75,"lo":11.301,"hi":11.614},{"t":56.25,"lo":12.183,"hi":12.421},{"t":56.5,"lo":12.354,"hi":12.591},{"t":64.5,"lo":12.869,"hi":13.026}]},"mark":{"type":"rule","color":"#9a9a9a","strokeWidth":1},"encoding":{"y":{"field":"lo","type":"quantitative","scale":{"domain":[10.834,13.267],"nice":false,"zero":false},"axis":{"orient":"right","offset":-55,"labelOverlap":false,"tickCount":100,"values":[11.2,11.6,12,12.4,13.2],"labelExpr":"datum.value+'B'"}},"y2":{"field":"hi"}}},
{"mark":{"type":"bar","size":2.3,"color":"#e6e6e6"},"encoding":{"y":{"field":"oa","type":"quantitative"},"y2":{"field":"ob"}}},
{"data":{"values":[{"t":89.57,"t2":93.49,"lo":12.635,"hi":12.851}]},"mark":{"type":"rect","color":"#d1d4dc","cornerRadius":1},"encoding":{"x2":{"field":"t2"},"y":{"field":"lo","type":"quantitative"},"y2":{"field":"hi"}}},
{"data":{"values":[{"t":90.03,"v":12.745,"label":"12.756B"}]},"mark":{"type":"text","align":"left","color":"#4a4d55","fontSize":10},"encoding":{"y":{"field":"v","type":"quantitative"},"text":{"field":"label"}}},
{"data":{"values":[
{"seg":"shaft","n":1,"t":56.41,"v":13.052},{"seg":"shaft","n":2,"t":67.95,"v":13.025},
{"seg":"head","n":1,"t":67.22,"v":13.16},{"seg":"head","n":2,"t":67.95,"v":13.025},{"seg":"head","n":3,"t":67.22,"v":12.904}
]},"mark":{"type":"line","color":"#f0a823","strokeWidth":1.5},"encoding":{"y":{"field":"v","type":"quantitative"},"detail":{"field":"seg"},"order":{"field":"n"}}},
{"data":{"values":[{"t":69.33,"v":11.977,"label":"Open Interest"}]},"mark":{"type":"text","align":"left","color":"#f9b42a","font":"Open Sans","fontSize":25},"encoding":{"y":{"field":"v","type":"quantitative"},"text":{"field":"label"}}}
]},
{"width":1179,"height":74,"data":{"name":"bars"},
"encoding":{"x":{"field":"t","type":"quantitative","scale":{"domain":[4.678,93.727],"nice":false,"zero":false,"padding":0},"axis":null}},
"layer":[
{"mark":{"type":"bar","size":2.2,"color":"#84d48c"},"encoding":{"y":{"field":"f","type":"quantitative","scale":{"domain":[-0.018,0.172],"nice":false,"zero":false},"axis":{"orient":"right","offset":-55,"labelOverlap":false,"tickCount":100,"values":[0,0.1],"labelExpr":"''+datum.value"}},"y2":{"datum":0}}},
{"data":{"values":[{"t":89.57,"t2":92.59,"lo":0.0282,"hi":0.0667}]},"mark":{"type":"rect","color":"#7bc67e","cornerRadius":1},"encoding":{"x2":{"field":"t2"},"y":{"field":"lo","type":"quantitative"},"y2":{"field":"hi"}}},
{"data":{"values":[{"t":90.03,"v":0.048,"label":"0.048"}]},"mark":{"type":"text","align":"left","color":"#1f4d25","fontSize":10},"encoding":{"y":{"field":"v","type":"quantitative"},"text":{"field":"label"}}},
{"data":{"values":[
{"seg":"shaft","n":1,"t":57.42,"v":0.148},{"seg":"shaft","n":2,"t":68.25,"v":0.0838},
{"seg":"head","n":1,"t":67.62,"v":0.111},{"seg":"head","n":2,"t":68.25,"v":0.0838},{"seg":"head","n":3,"t":67.37,"v":0.0615}
]},"mark":{"type":"line","color":"#f0a823","strokeWidth":1.5},"encoding":{"y":{"field":"v","type":"quantitative"},"detail":{"field":"seg"},"order":{"field":"n"}}},
{"data":{"values":[{"t":71.37,"v":0.082,"label":"Funding"}]},"mark":{"type":"text","align":"left","color":"#f9b42a","font":"Open Sans","fontSize":25},"encoding":{"y":{"field":"v","type":"quantitative"},"text":{"field":"label"}}}
]},
{"width":1179,"height":111,"data":{"name":"bars"},
"encoding":{"x":{"field":"t","type":"quantitative","scale":{"domain":[4.678,93.727],"nice":false,"zero":false,"padding":0},"axis":null}},
"layer":[
{"mark":{"type":"bar","size":2.2,"color":"#84d48c"},"encoding":{"y":{"field":"p","type":"quantitative","scale":{"domain":[-0.0333,0.3367],"nice":false,"zero":false},"axis":{"orient":"right","offset":-55,"labelOverlap":false,"tickCount":100,"values":[0,0.1,0.2,0.3],"labelExpr":"''+datum.value"}},"y2":{"datum":0}}},
{"data":{"values":[{"t":89.57,"t2":93.04,"lo":0.0367,"hi":0.09}]},"mark":{"type":"rect","color":"#7bc67e","cornerRadius":1},"encoding":{"x2":{"field":"t2"},"y":{"field":"lo","type":"quantitative"},"y2":{"field":"hi"}}},
{"data":{"values":[{"t":90.03,"v":0.0633,"label":"0.0626"}]},"mark":{"type":"text","align":"left","color":"#1f4d25","fontSize":10},"encoding":{"y":{"field":"v","type":"quantitative"},"text":{"field":"label"}}},
{"data":{"values":[
{"seg":"shaft","n":1,"t":57.92,"v":0.284},{"seg":"shaft","n":2,"t":67.95,"v":0.101},
{"seg":"head","n":1,"t":67.57,"v":0.143},{"seg":"head","n":2,"t":67.95,"v":0.101},{"seg":"head","n":3,"t":66.99,"v":0.082}
]},"mark":{"type":"line","color":"#f0a823","strokeWidth":1.5},"encoding":{"y":{"field":"v","type":"quantitative"},"detail":{"field":"seg"},"order":{"field":"n"}}},
{"data":{"values":[{"t":71.07,"v":0.1,"label":"Premium"}]},"mark":{"type":"text","align":"left","color":"#f9b42a","font":"Open Sans","fontSize":25},"encoding":{"y":{"field":"v","type":"quantitative"},"text":{"field":"label"}}}
]},
{"width":1179,"height":25,"data":{"values":[{"t":5,"v":0}]},
"mark":{"type":"rule","opacity":0},
"encoding":{
"x":{"field":"t","type":"quantitative","scale":{"domain":[4.678,93.727],"nice":false,"zero":false,"padding":0},"axis":{"orient":"bottom","offset":-25,"domainWidth":1.5,"labelOverlap":false,"values":[6,12,18,24,30,36,42,48,54,60,66,72,78,84],"labelExpr":"datum.value%24==0 ? ''+(9+datum.value/24) : (datum.value%24==6 ? '06:00' : datum.value%24==12 ? '12:00' : '18:00')","labelFontWeight":{"condition":{"test":"datum.value%24==0","value":"bold"},"value":"normal"}}},
"y":{"field":"v","type":"quantitative","scale":{"domain":[0,1]},"axis":{"orient":"right","offset":-55,"labels":false}}
}},
{"width":1179,"height":34,"view":{"fill":null,"stroke":null},
"encoding":{"x":{"field":"t","type":"quantitative","scale":{"domain":[4.678,93.727],"nice":false,"zero":false,"padding":0},"axis":null},"y":{"field":"v","type":"quantitative","scale":{"domain":[0,1]},"axis":null}},
"layer":[
{"data":{"values":[{"t":6.34,"v":0.47,"label":"TradingView"}]},"mark":{"type":"text","align":"left","color":"#b2b5be","font":"Open Sans","fontSize":11.5},"encoding":{"text":{"field":"label"}}},
{"data":{"values":[{"t":5.36,"v":0.47}]},"mark":{"type":"point","filled":true,"opacity":1,"color":"#d1d4dc","size":324,"shape":"M-1,-0.5 H-0.1 V0.5 H-0.45 V-0.1 H-1 Z M0.02,-0.5 H0.32 V-0.2 H0.02 Z M0.45,-0.5 H1 L0.55,0.5 H0.05 Z"}}
]}
]
}
